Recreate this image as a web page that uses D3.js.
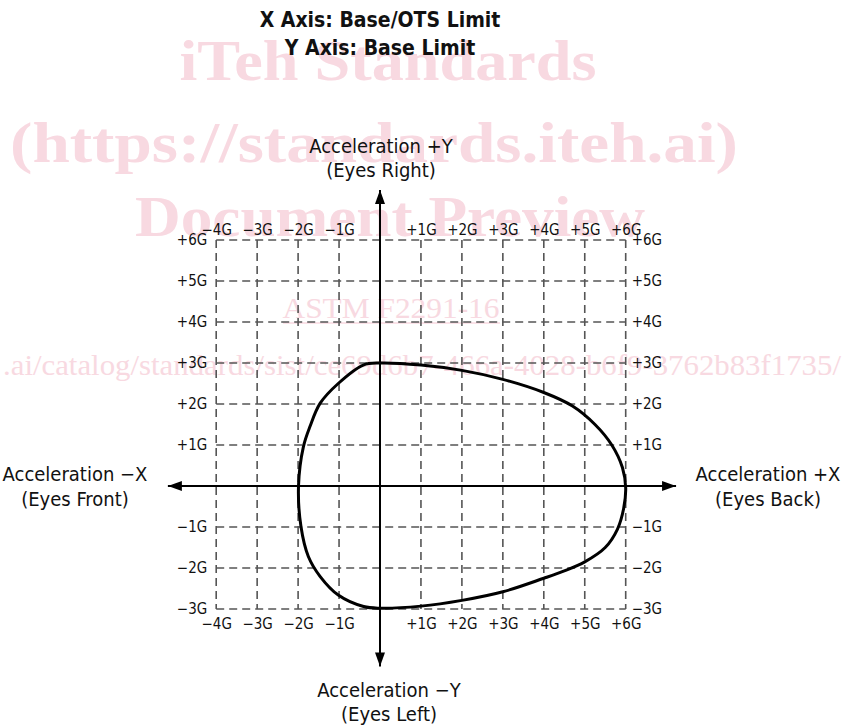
<!DOCTYPE html>
<html>
<head>
<meta charset="utf-8">
<script src="https://cdn.jsdelivr.net/npm/d3@7"></script>
<style>
  html, body { margin: 0; padding: 0; background: #ffffff; }
  svg { display: block; }
</style>
</head>
<body>
<svg id="chart" width="845" height="726"></svg>
<script>
// ---------- data ----------
const titleLines = ["X Axis: Base/OTS Limit", "Y Axis: Base Limit"];
const xTickValues = [-4, -3, -2, -1, 1, 2, 3, 4, 5, 6];
const yTickValues = [-3, -2, -1, 1, 2, 3, 4, 5, 6];
const xDomain = [-4, 6];
const yDomain = [-3, 6];
const axisExtentX = [-5.18, 7.23];
const axisExtentY = [-4.4, 7.22];
// limit envelope (G units), clockwise from top
const envelopeX = [0, 1, 2, 3, 4, 4.7, 5.25, 5.66, 5.92, 6.0, 5.95, 5.8, 5.5, 5.0, 4.5, 4, 3, 2, 1, 0, -0.4, -1.02, -1.46, -1.75, -1.93, -1.99, -1.87, -1.71, -1.46, -1.02, -0.41];
const envelopeY = [3.0, 2.95, 2.82, 2.6, 2.28, 1.95, 1.5, 1.0, 0.45, -0.05, -0.55, -1.05, -1.5, -1.85, -2.07, -2.25, -2.58, -2.79, -2.93, -2.98, -2.94, -2.66, -2.21, -1.72, -0.99, 0, 0.96, 1.45, 2.02, 2.50, 2.95];
const labelPosY = ["Acceleration +Y", "(Eyes Right)"];
const labelNegY = ["Acceleration \u2212Y", "(Eyes Left)"];
const labelNegX = ["Acceleration \u2212X", "(Eyes Front)"];
const labelPosX = ["Acceleration +X", "(Eyes Back)"];
const watermarkLines = ["iTeh Standards", "(https://standards.iteh.ai)", "Document Preview", "ASTM F2291-16", ".ai/catalog/standards/sist/ce69d6b7-466a-4028-b6f9-3762b83f1735/"];

// ---------- setup ----------
const svg = d3.select("#chart");
const FONT = "'DejaVu Sans Condensed', 'DejaVu Sans', sans-serif";

const x = d3.scaleLinear().domain(xDomain).range([216.2, 625.7]);
const y = d3.scaleLinear().domain(yDomain).range([609, 240]);

// ---------- watermark (behind) ----------
const WM = "#f8d9e1";
const wm = svg.append("g").attr("font-family", "'Liberation Serif', serif").attr("fill", WM);
const wmSpecs = [
  {t: watermarkLines[0], cx: 388, by: 80, size: 58, w: 417, bold: true},
  {t: watermarkLines[1], cx: 374, by: 162, size: 58, w: 728, bold: true},
  {t: watermarkLines[2], cx: 390, by: 236, size: 58, w: 510, bold: true},
  {t: watermarkLines[3], cx: 391, by: 318, size: 30, w: 217, bold: false},
  {t: watermarkLines[4], cx: 422, by: 375, size: 30, w: 838, bold: false}
];
wmSpecs.forEach(s => {
  wm.append("text")
    .attr("x", s.cx).attr("y", s.by)
    .attr("text-anchor", "middle")
    .attr("font-size", s.size)
    .attr("font-weight", s.bold ? "bold" : "normal")
    .attr("textLength", s.w)
    .attr("lengthAdjust", "spacingAndGlyphs")
    .text(s.t);
});
wm.append("line")
  .attr("x1", 283).attr("x2", 500).attr("y1", 323).attr("y2", 323)
  .attr("stroke", WM).attr("stroke-width", 1.5);

// ---------- grid ----------
const grid = svg.append("g")
  .attr("stroke", "#555").attr("stroke-width", 1.6).attr("stroke-dasharray", "8,5").attr("fill", "none");
grid.selectAll("line.v").data(xTickValues).join("line")
  .attr("x1", d => x(d)).attr("x2", d => x(d))
  .attr("y1", y(yDomain[1])).attr("y2", y(yDomain[0]));
grid.selectAll("line.h").data(yTickValues).join("line")
  .attr("y1", d => y(d)).attr("y2", d => y(d))
  .attr("x1", x(xDomain[0])).attr("x2", x(xDomain[1]));

// ---------- tick labels via d3 axes ----------
const fmt = d => (d > 0 ? "+" : "\u2212") + Math.abs(d) + "G";
function styleAxis(g) {
  g.select(".domain").remove();
  g.selectAll(".tick line").remove();
  g.attr("font-family", FONT).attr("font-size", 15);
  g.selectAll("text").attr("fill", "#111");
}
svg.append("g").attr("transform", `translate(0,${y(yDomain[1])})`)
  .call(d3.axisTop(x).tickValues(xTickValues).tickFormat(fmt).tickSize(0).tickPadding(5))
  .call(styleAxis);
svg.append("g").attr("transform", `translate(0,${y(yDomain[0])})`)
  .call(d3.axisBottom(x).tickValues(xTickValues).tickFormat(fmt).tickSize(0).tickPadding(9))
  .call(styleAxis);
svg.append("g").attr("transform", `translate(${x(xDomain[0])},0)`)
  .call(d3.axisLeft(y).tickValues(yTickValues).tickFormat(fmt).tickSize(0).tickPadding(9))
  .call(styleAxis);
svg.append("g").attr("transform", `translate(${x(xDomain[1])},0)`)
  .call(d3.axisRight(y).tickValues(yTickValues).tickFormat(fmt).tickSize(0).tickPadding(6))
  .call(styleAxis);

// ---------- main axes with arrows ----------
const defs = svg.append("defs");
defs.append("marker")
  .attr("id", "arrow").attr("viewBox", "0 0 14 10").attr("refX", 14).attr("refY", 5)
  .attr("markerWidth", 14).attr("markerHeight", 10).attr("markerUnits", "userSpaceOnUse")
  .attr("orient", "auto")
  .append("path").attr("d", "M0,0 L14,5 L0,10 Z").attr("fill", "#000");

const axes = svg.append("g").attr("stroke", "#000").attr("stroke-width", 2);
axes.append("line").attr("x1", x(0)).attr("x2", x(0)).attr("y1", y(0)).attr("y2", y(axisExtentY[1])).attr("marker-end", "url(#arrow)");
axes.append("line").attr("x1", x(0)).attr("x2", x(0)).attr("y1", y(0)).attr("y2", y(axisExtentY[0])).attr("marker-end", "url(#arrow)");
axes.append("line").attr("y1", y(0)).attr("y2", y(0)).attr("x1", x(0)).attr("x2", x(axisExtentX[1])).attr("marker-end", "url(#arrow)");
axes.append("line").attr("y1", y(0)).attr("y2", y(0)).attr("x1", x(0)).attr("x2", x(axisExtentX[0])).attr("marker-end", "url(#arrow)");

// ---------- envelope ----------
const pts = envelopeX.map((v, i) => [v, envelopeY[i]]);
svg.append("path")
  .attr("d", d3.line().x(d => x(d[0])).y(d => y(d[1])).curve(d3.curveCatmullRomClosed.alpha(0.5))(pts))
  .attr("fill", "none").attr("stroke", "#000").attr("stroke-width", 3);

// ---------- labels ----------
function twoLine(lines, cx, by, gap) {
  const t = svg.append("text").attr("font-family", FONT).attr("font-size", 20)
    .attr("text-anchor", "middle").attr("fill", "#111");
  lines.forEach((s, i) => t.append("tspan").attr("x", cx).attr("y", by + i * gap).text(s));
}
twoLine(labelPosY, 381, 153, 24);
twoLine(labelNegY, 389, 697, 24);
twoLine(labelNegX, 75, 481, 25);
twoLine(labelPosX, 768, 481, 25);

// ---------- title ----------
const title = svg.append("text").attr("font-family", FONT).attr("font-size", 21)
  .attr("font-weight", "bold").attr("text-anchor", "middle").attr("fill", "#111");
titleLines.forEach((s, i) => title.append("tspan").attr("x", 380).attr("y", 27 + i * 28).text(s));
</script>
</body>
</html>
